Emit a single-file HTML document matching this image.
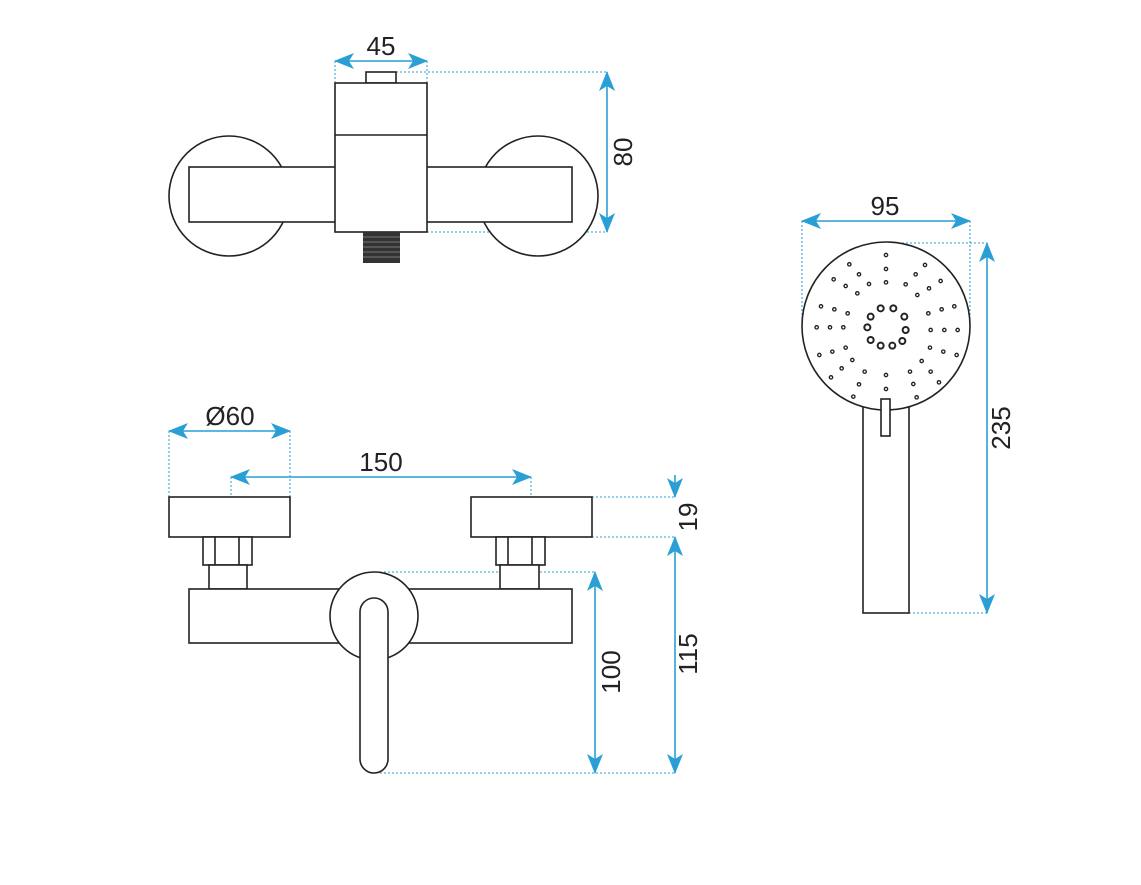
<!DOCTYPE html>
<html><head><meta charset="utf-8"><style>
html,body{margin:0;padding:0;background:#fff;}
svg{display:block;}
text{font-family:"Liberation Sans",sans-serif;font-size:26px;fill:#222;}
</style></head><body>
<svg width="1141" height="885" viewBox="0 0 1141 885" xmlns="http://www.w3.org/2000/svg">
<defs>
<marker id="ah" viewBox="0 0 20 16" refX="19" refY="8" markerWidth="20" markerHeight="16" markerUnits="userSpaceOnUse" orient="auto-start-reverse">
<path d="M0,0 L20,8 L0,16 L5,8 Z" fill="#2a9fd6"/>
</marker>
</defs>
<g fill="none" stroke="#2a9fd6" stroke-width="1" stroke-dasharray="2,2">
<line x1="335" y1="61" x2="335" y2="83"/><line x1="427" y1="61" x2="427" y2="83"/>
<line x1="396" y1="72" x2="607" y2="72"/><line x1="427" y1="232" x2="607" y2="232"/>
<line x1="169" y1="431" x2="169" y2="497"/><line x1="290" y1="431" x2="290" y2="497"/>
<line x1="231" y1="477" x2="231" y2="497"/><line x1="531" y1="477" x2="531" y2="497"/>
<line x1="592" y1="497" x2="675" y2="497"/><line x1="592" y1="537" x2="675" y2="537"/>
<line x1="380" y1="572" x2="595" y2="572"/><line x1="380" y1="773" x2="675" y2="773"/>
<line x1="802" y1="221" x2="802" y2="320"/><line x1="970" y1="221" x2="970" y2="320"/>
<line x1="886" y1="243" x2="987" y2="243"/><line x1="909" y1="613" x2="987" y2="613"/>
</g>
<g stroke="#2a9fd6" stroke-width="1.6" marker-start="url(#ah)" marker-end="url(#ah)">
<line x1="335" y1="61" x2="427" y2="61"/>
<line x1="607" y1="72" x2="607" y2="232"/>
<line x1="169" y1="431" x2="290" y2="431"/>
<line x1="231" y1="477" x2="531" y2="477"/>
<line x1="595" y1="572" x2="595" y2="773"/>
<line x1="675" y1="537" x2="675" y2="773"/>
<line x1="802" y1="221" x2="970" y2="221"/>
<line x1="987" y1="243" x2="987" y2="613"/>
</g>
<g stroke="#2a9fd6" stroke-width="1.6">
<line x1="675" y1="475" x2="675" y2="497" marker-end="url(#ah)"/>
</g>

<g fill="#fff" stroke="#222" stroke-width="1.6">
<circle cx="229" cy="196" r="60"/>
<circle cx="538" cy="196" r="60"/>
<rect x="189" y="167" width="383" height="55"/>
<rect x="366" y="72" width="30" height="11"/>
<rect x="335" y="83" width="92" height="149"/>
<line x1="335" y1="135" x2="427" y2="135"/>
</g>
<rect x="363" y="232" width="37" height="31" fill="#333"/>
<g stroke="#777" stroke-width="1">
<line x1="363" y1="237" x2="400" y2="237"/><line x1="363" y1="242" x2="400" y2="242"/><line x1="363" y1="247" x2="400" y2="247"/><line x1="363" y1="252" x2="400" y2="252"/><line x1="363" y1="257" x2="400" y2="257"/>
</g>

<g fill="#fff" stroke="#222" stroke-width="1.6">
<rect x="169" y="497" width="121" height="40"/>
<rect x="471" y="497" width="121" height="40"/>
<rect x="203" y="537" width="49" height="28"/><line x1="215" y1="537" x2="215" y2="565"/><line x1="239" y1="537" x2="239" y2="565"/>
<rect x="209" y="565" width="38" height="24"/>
<rect x="496" y="537" width="49" height="28"/><line x1="508" y1="537" x2="508" y2="565"/><line x1="532" y1="537" x2="532" y2="565"/>
<rect x="500" y="565" width="39" height="24"/>
<rect x="189" y="589" width="383" height="54"/>
<circle cx="374" cy="616" r="44"/>
<rect x="360" y="598" width="28" height="175" rx="14"/>
<rect x="863" y="395" width="46" height="218"/>
<circle cx="886" cy="326" r="84"/>
<rect x="881" y="399" width="9" height="37"/>
</g>

<g transform="translate(790,190) scale(0.3333)" fill="none" stroke="#222" stroke-width="4">
<g>
<circle cx="288" cy="195" r="5"/><circle cx="288" cy="237" r="5"/><circle cx="288" cy="277" r="5"/>
<circle cx="178" cy="223" r="5"/><circle cx="207" cy="253" r="5"/><circle cx="237" cy="282" r="5"/>
<circle cx="131" cy="268" r="5"/><circle cx="167" cy="288" r="5"/><circle cx="202" cy="310" r="5"/>
<circle cx="93" cy="349" r="5"/><circle cx="133" cy="358" r="5"/><circle cx="173" cy="370" r="5"/>
<circle cx="80" cy="412" r="5"/><circle cx="120" cy="412" r="5"/><circle cx="160" cy="412" r="5"/>
<circle cx="88" cy="495" r="5"/><circle cx="127" cy="485" r="5"/><circle cx="167" cy="473" r="5"/>
<circle cx="123" cy="562" r="5"/><circle cx="155" cy="535" r="5"/><circle cx="187" cy="510" r="5"/>
<circle cx="190" cy="620" r="5"/><circle cx="207" cy="583" r="5"/><circle cx="224" cy="545" r="5"/>
<circle cx="288" cy="555" r="5"/><circle cx="288" cy="597" r="5"/>
<circle cx="380" cy="622" r="5"/><circle cx="370" cy="582" r="5"/><circle cx="360" cy="545" r="5"/>
<circle cx="447" cy="577" r="5"/><circle cx="422" cy="545" r="5"/><circle cx="395" cy="513" r="5"/>
<circle cx="500" cy="495" r="5"/><circle cx="460" cy="485" r="5"/><circle cx="420" cy="473" r="5"/>
<circle cx="503" cy="420" r="5"/><circle cx="463" cy="420" r="5"/><circle cx="422" cy="420" r="5"/>
<circle cx="493" cy="349" r="5"/><circle cx="455" cy="358" r="5"/><circle cx="415" cy="370" r="5"/>
<circle cx="452" cy="273" r="5"/><circle cx="417" cy="295" r="5"/><circle cx="382" cy="315" r="5"/>
<circle cx="405" cy="225" r="5"/><circle cx="377" cy="253" r="5"/><circle cx="347" cy="283" r="5"/>
</g>
<g stroke-width="6">
<circle cx="272" cy="355" r="9"/><circle cx="310" cy="355" r="9"/><circle cx="343" cy="380" r="9"/>
<circle cx="347" cy="420" r="9"/><circle cx="337" cy="453" r="9"/><circle cx="307" cy="467" r="9"/>
<circle cx="272" cy="467" r="9"/><circle cx="242" cy="450" r="9"/><circle cx="232" cy="412" r="9"/>
<circle cx="242" cy="380" r="9"/>
</g>
</g>

<text x="381" y="55" text-anchor="middle">45</text>
<text transform="translate(632,152) rotate(-90)" text-anchor="middle">80</text>
<text x="230" y="425" text-anchor="middle">Ø60</text>
<text x="381" y="471" text-anchor="middle">150</text>
<text transform="translate(697,517) rotate(-90)" text-anchor="middle">19</text>
<text transform="translate(697,654) rotate(-90)" text-anchor="middle">115</text>
<text transform="translate(620,672) rotate(-90)" text-anchor="middle">100</text>
<text x="885" y="215" text-anchor="middle">95</text>
<text transform="translate(1010,428) rotate(-90)" text-anchor="middle">235</text>
</svg>
</body></html>
